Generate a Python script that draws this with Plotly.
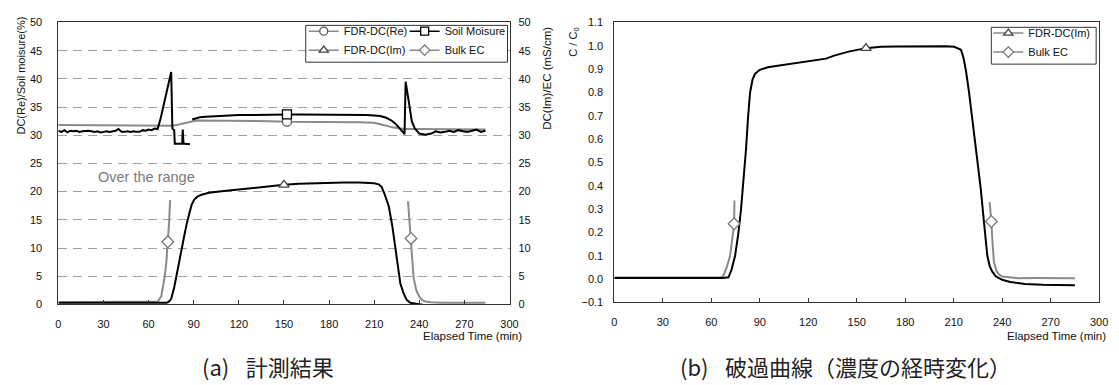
import plotly.graph_objects as go

# ---------------- (a) measurement results ----------------
# FDR-DC(Re), left axis
re_t = [0, 10, 20, 30, 40, 50, 60, 70, 76, 80, 84, 88, 92, 96, 100, 110, 120, 130, 140, 152,
        160, 170, 180, 190, 200, 210, 214, 218, 222, 226, 230, 240, 250, 260, 270, 284]
re_v = [31.8, 31.8, 31.8, 31.8, 31.8, 31.8, 31.7, 31.7, 31.7, 31.9, 32.2, 32.4, 32.6, 32.6, 32.6,
        32.6, 32.6, 32.5, 32.5, 32.4, 32.4, 32.4, 32.4, 32.4, 32.3, 32.2, 32.0, 31.7, 31.4, 31.2,
        31.1, 31.1, 31.1, 31.1, 31.1, 31.0]

# Soil moisture, left axis (gap where the sensor was over its range)
sm_t = [0, 2, 4, 6, 8, 10, 12, 14, 16, 18, 20, 22, 24, 26, 28, 30, 32, 34, 36, 38, 40, 42, 44,
        46, 48, 50, 52, 54, 56, 58, 60, 62, 64, 66, 68, 70, 72, 74, 75, 75.8, 77, 77.4, 79, 80,
        81, 82.3, 82.7, 83.2, 84, 85, 86, 87.5, None,
        89, 91, 94, 98, 104, 110, 120, 130, 140, 152, 160, 170, 180, 190, 200, 205, 210, 214,
        218, 221, 224, 227, 229, 230.2, 230.9, 233, 235, 237, 240, 244, 248, 251, 254, 257, 260,
        263, 266, 269, 272, 275, 278, 281, 284]
sm_v = [30.8, 30.6, 30.9, 30.5, 30.8, 30.7, 30.8, 30.6, 30.7, 30.8, 30.8, 30.7, 30.6, 30.7,
        30.5, 30.6, 30.7, 30.6, 30.7, 30.8, 31.1, 30.6, 30.6, 30.7, 30.6, 30.7, 30.6, 30.6, 30.9,
        30.8, 31.0, 30.9, 31.2, 31.1, 33.0, 35.3, 37.8, 40.2, 41.2, 31.2, 30.9, 28.5, 28.5, 28.5,
        28.6, 28.5, 31.0, 28.5, 28.5, 28.5, 28.4, 28.4, None,
        32.8, 33.0, 33.2, 33.3, 33.4, 33.5, 33.6, 33.6, 33.7, 33.7, 33.7, 33.7, 33.7, 33.7, 33.6,
        33.6, 33.5, 33.4, 33.1, 32.7, 32.1, 31.3, 30.6, 30.2, 39.5, 36.0, 32.5, 31.2, 30.3, 30.1,
        30.3, 30.7, 30.5, 30.6, 30.8, 30.6, 30.9, 30.7, 30.6, 30.8, 31.0, 30.6, 30.8, 30.6]

# FDR-DC(Im), right axis
im_t = [0, 10, 20, 30, 40, 50, 60, 68, 72, 73.5, 75, 77, 79.4, 81.5, 83.8, 85.5, 87, 88.5, 90.3,
        92.5, 94.7, 97, 100, 110, 120, 130, 140, 150, 160, 170, 180, 190, 200, 206, 210, 213, 215,
        217, 219.7, 222, 224, 225.7, 227.4, 229.5, 231.6, 234, 237, 240.5, 242]
im_v = [0.3, 0.3, 0.3, 0.3, 0.3, 0.3, 0.3, 0.3, 0.3, 0.5, 1.0, 3.0, 6.5, 9.5, 12.3, 14.5, 16.3,
        17.6, 18.6, 19.1, 19.4, 19.6, 19.8, 20.1, 20.4, 20.7, 20.9, 21.2, 21.4, 21.5, 21.6, 21.6,
        21.6, 21.6, 21.5, 21.3, 20.8, 19.5, 17.4, 14.0, 10.5, 7.0, 3.7, 2.0, 0.8, 0.3, 0.1, 0.0, 0.0]

# Bulk EC, right axis
ec_t = [0, 10, 20, 30, 40, 50, 60, 66.2, 68.5, 70.6, 71.8, 72.8, 73.6, 74.3, None,
        232.5, 233.5, 234.5, 235.3, 236.2, 238, 240, 241.7, 244, 248, 255, 265, 275, 284]
ec_v = [0.4, 0.4, 0.4, 0.4, 0.4, 0.4, 0.4, 0.5, 1.5, 4.8, 7.5, 11.1, 14.5, 18.5, None,
        18.3, 15.0, 11.7, 8.0, 4.8, 2.5, 1.4, 0.8, 0.5, 0.4, 0.3, 0.3, 0.3, 0.3]

# ---------------- (b) breakthrough curve ----------------
cim_t = [0, 10, 20, 30, 40, 50, 60, 67, 70.6, 72.5, 74.7, 76.6, 78.4, 80, 81.5, 82.8, 84, 85.5,
         87, 90, 95, 100, 107, 115, 125, 131, 136, 145, 155.7, 165, 175, 185, 195, 205, 210.4,
         212.5, 214.5, 216, 217.6, 219.5, 221.6, 224, 226.7, 228.8, 230.8, 232.3, 233.9, 236,
         240, 245, 254, 265, 275, 285]
cim_v = [0.005, 0.005, 0.004, 0.005, 0.004, 0.005, 0.005, 0.005, 0.008, 0.04, 0.10, 0.19, 0.30,
         0.42, 0.56, 0.70, 0.80, 0.855, 0.88, 0.897, 0.908, 0.913, 0.92, 0.928, 0.937, 0.945,
         0.958, 0.975, 0.99, 0.996, 0.997, 0.998, 0.998, 0.998, 0.996, 0.99, 0.983, 0.95, 0.893,
         0.80, 0.685, 0.53, 0.39, 0.24, 0.101, 0.055, 0.032, 0.012, -0.003, -0.012, -0.021,
         -0.024, -0.025, -0.026]

cec_t = [0, 10, 20, 30, 40, 50, 60, 66, 67.5, 69.5, 71.6, 72.9, 73.6, 74.1, 74.3, None,
         232.2, 233.3, 234.1, 234.9, 236.5, 238, 240, 245, 250, 260, 270, 280, 285]
cec_v = [0.007, 0.007, 0.006, 0.007, 0.006, 0.007, 0.007, 0.008, 0.015, 0.05, 0.10, 0.16, 0.21,
         0.237, 0.337, None,
         0.33, 0.247, 0.15, 0.073, 0.035, 0.02, 0.011, 0.006, 0.004, 0.005, 0.004, 0.005, 0.004]

x_ticks = list(range(0, 301, 30))
left_ticks = list(range(0, 51, 5))
c_ticks = [round(-0.1 + 0.1 * i, 1) for i in range(13)]

W, H = 1119, 385
FONT = "Liberation Sans"
BLACK = "#000000"
GRAY = "#8a8a8a"


def fx(p):
    return p / W


def fy(p):
    return 1 - p / H


fig = go.Figure()


def line(t, v, color, width, xa, ya):
    fig.add_trace(go.Scatter(x=t, y=v, mode="lines", line=dict(color=color, width=width),
                             xaxis=xa, yaxis=ya, showlegend=False, hoverinfo="skip"))


def marks(t, v, times, symbol, edge, size, xa, ya):
    idx = [t.index(tt) for tt in times]
    fig.add_trace(go.Scatter(x=[t[i] for i in idx], y=[v[i] for i in idx], mode="markers",
                             marker=dict(symbol=symbol, size=size, color="white",
                                         line=dict(color=edge, width=1.3)),
                             xaxis=xa, yaxis=ya, showlegend=False, hoverinfo="skip"))


def key(name, color, width, symbol, edge, size, legend):
    fig.add_trace(go.Scatter(x=[None], y=[None], mode="lines+markers", name=name,
                             line=dict(color=color, width=width),
                             marker=dict(symbol=symbol, size=size, color="white",
                                         line=dict(color=edge, width=1.3)),
                             legend=legend, xaxis="x", yaxis="y"))


# panel (a)
line(re_t, re_v, GRAY, 2, "x", "y")
line(ec_t, ec_v, GRAY, 2, "x", "y2")
line(sm_t, sm_v, BLACK, 2, "x", "y")
line(im_t, im_v, BLACK, 2, "x", "y2")
marks(re_t, re_v, [152], "circle", "#555555", 9, "x", "y")
marks(sm_t, sm_v, [152], "square", BLACK, 9, "x", "y")
marks(im_t, im_v, [150], "triangle-up", "#444444", 9, "x", "y2")
marks(ec_t, ec_v, [72.8, 234.5], "diamond", "#777777", 9, "x", "y2")

# panel (b)
line(cec_t, cec_v, GRAY, 2, "x2", "y3")
line(cim_t, cim_v, BLACK, 2, "x2", "y3")
marks(cim_t, cim_v, [155.7], "triangle-up", "#444444", 9, "x2", "y3")
marks(cec_t, cec_v, [74.1, 233.3], "diamond", "#777777", 9, "x2", "y3")

# legend keys
key("FDR-DC(Re)", GRAY, 1.5, "circle", "#555555", 8, "legend")
key("FDR-DC(Im)", GRAY, 1.5, "triangle-up", "#444444", 8, "legend")
key("Soil Moisure", BLACK, 1.5, "square", BLACK, 8, "legend2")
key("Bulk EC", GRAY, 1.5, "diamond", "#777777", 8, "legend2")
key("FDR-DC(Im)", GRAY, 1.5, "triangle-up", "#444444", 8, "legend3")
key("Bulk EC", GRAY, 1.5, "diamond", "#777777", 8, "legend3")

tickfont = dict(family=FONT, size=11, color="#111111")
axis_line = dict(showline=True, linecolor="#333333", linewidth=1, mirror=True, zeroline=False)

xa_common = dict(range=[0, 300], tickvals=x_ticks, ticks="inside", ticklen=4,
                 tickcolor="#333333", tickfont=tickfont, showgrid=False, ticklabelstandoff=9,
                 **axis_line)

dash = "9px,6px"
legend_common = dict(xanchor="left", yanchor="top", bgcolor="rgba(0,0,0,0)", borderwidth=0,
                     font=dict(family=FONT, size=11, color="#111111"), itemwidth=30,
                     tracegroupgap=0, orientation="v")

box = dict(type="rect", xref="paper", yref="paper", line=dict(color="#333333", width=1),
           fillcolor="white", layer="above")

fig.update_layout(
    width=W, height=H, margin=dict(l=0, r=0, t=0, b=0),
    paper_bgcolor="white", plot_bgcolor="white",
    xaxis=dict(domain=[fx(56), fx(512)], anchor="y", **xa_common),
    yaxis=dict(domain=[fy(308), fy(17)], anchor="x", range=[0, 50], tickvals=left_ticks,
               ticks="", tickfont=tickfont, ticklabelstandoff=13,
               showgrid=True, gridcolor="#a0a0a0", gridwidth=1, griddash=dash, **axis_line),
    yaxis2=dict(overlaying="y", anchor="x", side="right", range=[0, 50], tickvals=left_ticks,
                ticks="", tickfont=tickfont, ticklabelstandoff=8, showgrid=False,
                showline=False, zeroline=False),
    xaxis2=dict(domain=[fx(618), fx(1108)], anchor="y3", **xa_common),
    yaxis3=dict(domain=[fy(306), fy(17)], anchor="x2", range=[-0.1, 1.1], tickvals=c_ticks,
                tickformat=".1f", ticks="", tickfont=tickfont, ticklabelstandoff=8,
                showgrid=False, **axis_line),
    yaxis4=dict(overlaying="y3", anchor="x2", range=[-0.1, 1.1],
                tickvals=[0.2, 0.3, 0.4, 0.5, 0.6, 0.7, 0.8, 0.9], showticklabels=False,
                ticks="", showgrid=True, gridcolor="#555555", griddash=dash, zeroline=False),
    yaxis5=dict(overlaying="y3", anchor="x2", range=[-0.1, 1.1], tickvals=[0.0, 0.1, 1.0],
                showticklabels=False, ticks="", showgrid=True, gridcolor="#aaaaaa",
                griddash=dash, zeroline=False),
    legend=dict(x=fx(304), y=fy(11), **legend_common),
    legend2=dict(x=fx(406), y=fy(11), **legend_common),
    legend3=dict(x=fx(996), y=fy(13), **legend_common),
    shapes=[dict(x0=fx(306), x1=fx(510), y0=fy(58), y1=fy(20), **box),
            dict(x0=fx(999), x1=fx(1105), y0=fy(60), y1=fy(22), **box)],
)

ann = []
small = dict(family=FONT, size=11, color="#111111")
rot = dict(textangle=-90, xanchor="center", yanchor="middle")
ann.append(dict(text="DC(Re)/Soil moisure(%)", x=fx(18), y=fy(72), font=small, **rot))
ann.append(dict(text="DC(Im)/EC (mS/cm)", x=fx(550), y=fy(75),
                font=dict(family=FONT, size=11.5, color="#111111"), **rot))
ann.append(dict(text="C / C<sub>0</sub>", x=fx(577), y=fy(37), font=small, **rot))
ann.append(dict(text="Over the range", x=fx(94), y=fy(177), xanchor="left", yanchor="middle",
                font=dict(family=FONT, size=14.5, color="#7a7a7a")))
elapsed = dict(family=FONT, size=11.5, color="#111111")
ann.append(dict(text="Elapsed Time (min)", x=fx(527), y=fy(341), xanchor="right",
                yanchor="middle", font=elapsed))
ann.append(dict(text="Elapsed Time (min)", x=fx(1117), y=fy(341), xanchor="right",
                yanchor="middle", font=elapsed))
cjk = dict(family="Noto Sans CJK JP", size=22, color="#222222")
ann.append(dict(text="(a)\u2002\u2005計測結果", x=fx(268), y=fy(372), xanchor="center",
                yanchor="middle", font=cjk))
ann.append(dict(text="(b)\u2002\u2005破過曲線（濃度の経時変化）", x=fx(852), y=fy(372),
                xanchor="center", yanchor="middle", font=cjk))
for a in ann:
    a.update(xref="paper", yref="paper", showarrow=False)
fig.update_layout(annotations=ann)

fig.write_html("out.html")
